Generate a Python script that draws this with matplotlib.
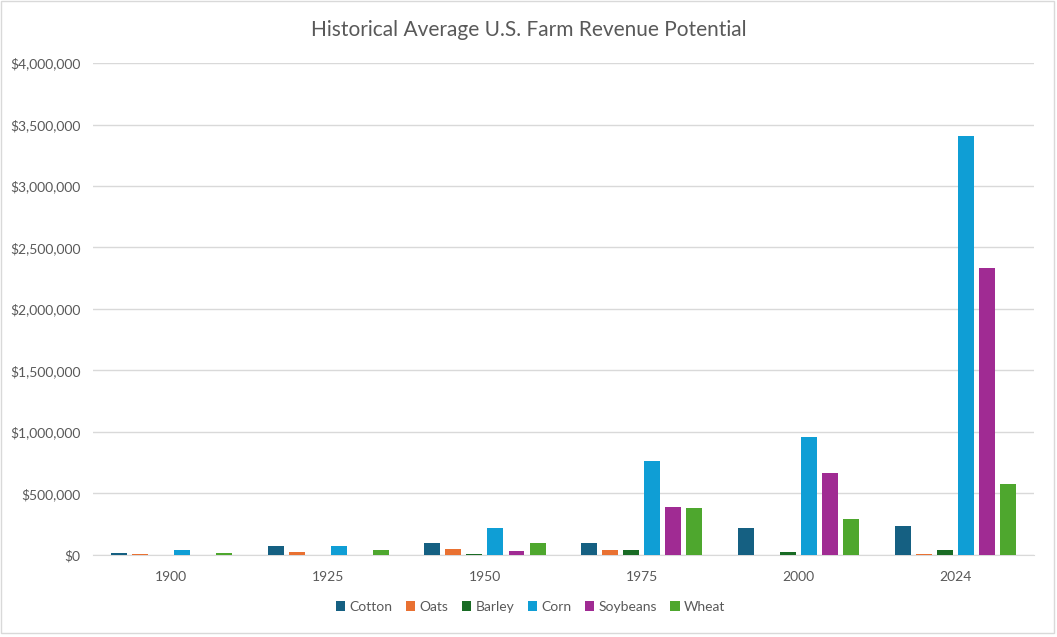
import matplotlib.pyplot as plt
import numpy as np
from matplotlib.patches import Rectangle
from matplotlib.ticker import FuncFormatter

years = ["1900", "1925", "1950", "1975", "2000", "2024"]
crops = ["Cotton", "Oats", "Barley", "Corn", "Soybeans", "Wheat"]
cotton = [16000, 73000, 98000, 98000, 220000, 236000]
oats = [8000, 24000, 49000, 40000, 0, 8000]
barley = [0, 0, 8000, 40000, 24000, 40000]
corn = [40000, 73000, 220000, 767000, 962000, 3408000]
soybeans = [0, 0, 33000, 390000, 662000, 2337000]
wheat = [16000, 40000, 98000, 382000, 293000, 577000]
colors = ["#156082", "#E97132", "#196B24", "#0F9ED5", "#A02B93", "#4EA72E"]

plt.rcParams['font.family'] = ['Lato', 'DejaVu Sans']
text_col = "#595959"
grid_col = "#d9d9d9"

fig = plt.figure(figsize=(10.57, 6.37), dpi=100)
ax = fig.add_axes([0.088, 0.129, 0.890, 0.772])

series = [cotton, oats, barley, corn, soybeans, wheat]
x = np.arange(len(years))
step = 0.134
width = 0.102
for i, (name, vals) in enumerate(zip(crops, series)):
    ax.bar(x + (i - 2.5) * step, vals, width=width, color=colors[i], label=name, zorder=3)

ax.set_xlim(-0.5, 5.5)
ax.set_ylim(0, 4000000)
ax.set_yticks(np.arange(0, 4000001, 500000))
ax.yaxis.set_major_formatter(FuncFormatter(lambda v, p: f"${v:,.0f}"))
ax.set_xticks(x)
ax.set_xticklabels(years)
ax.grid(axis='y', color=grid_col, linewidth=1, zorder=0)
for s in ["top", "right", "left"]:
    ax.spines[s].set_visible(False)
ax.spines["bottom"].set_color(grid_col)
ax.tick_params(axis='both', length=0, colors=text_col, labelsize=10)
ax.tick_params(axis='y', pad=9)
ax.tick_params(axis='x', pad=12)

fig.text(0.5, 0.953, "Historical Average U.S. Farm Revenue Potential",
         ha='center', va='center', fontsize=15, color=text_col)

fig.legend(loc='center', bbox_to_anchor=(0.502, 0.047), ncol=6, frameon=False,
           fontsize=10, handlelength=0.7, handleheight=0.7, handletextpad=0.3,
           columnspacing=0.95, labelcolor=text_col)

fig.patches.append(Rectangle((0.001, 0.006), 0.996, 0.992, transform=fig.transFigure,
                             fill=False, edgecolor=grid_col, linewidth=1))

fig.savefig("out.png", dpi=100, facecolor="white")
